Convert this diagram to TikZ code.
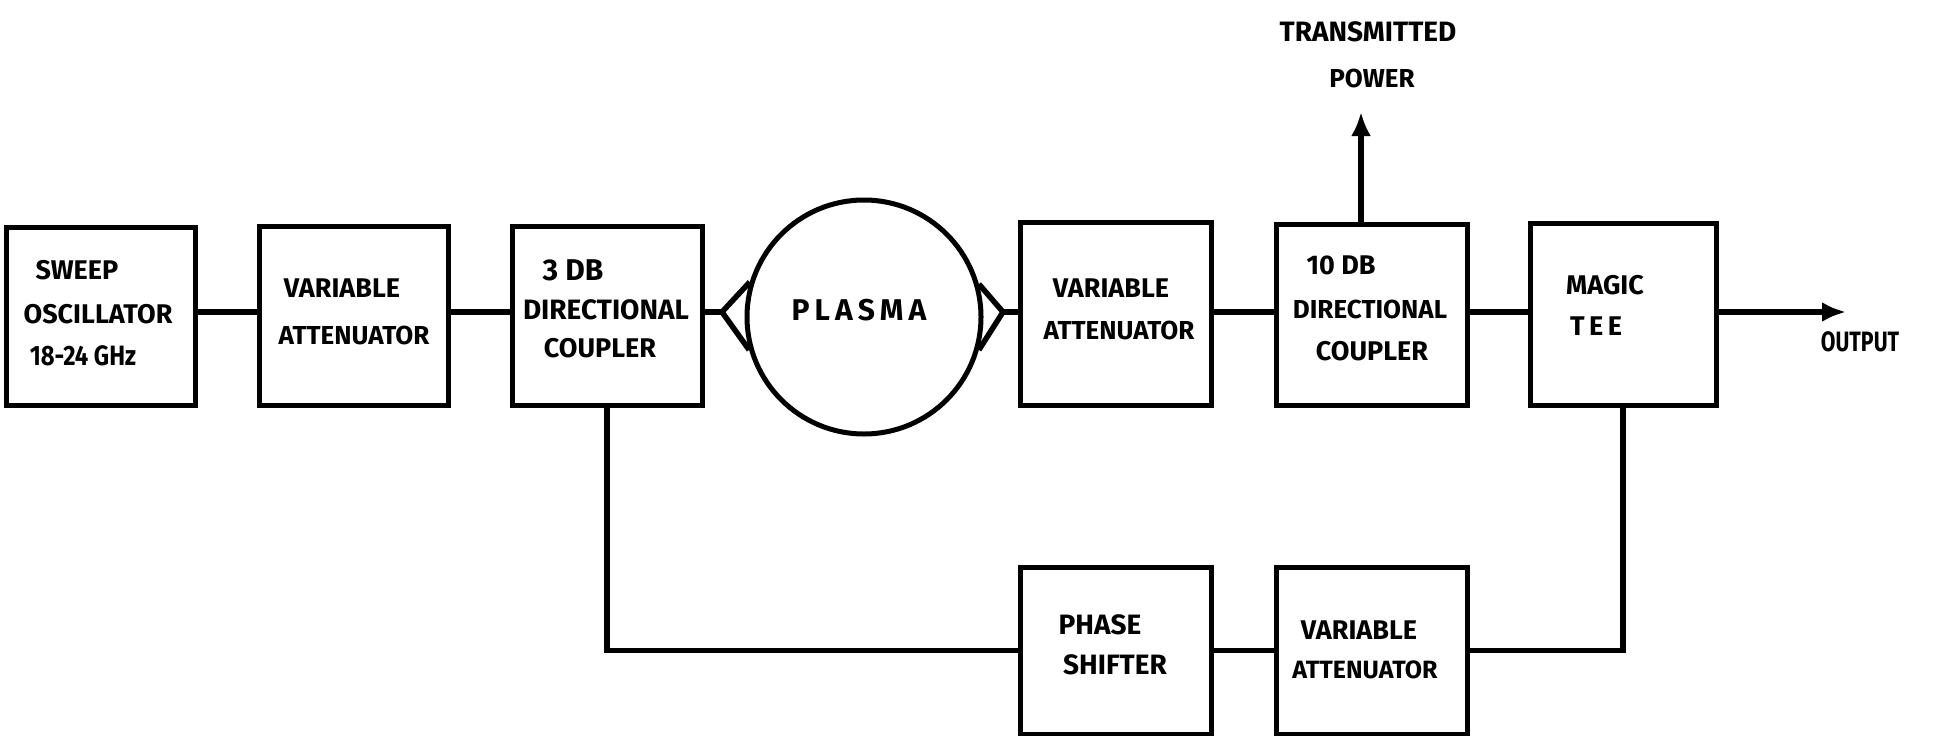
\documentclass[tikz,border=0pt]{standalone}
\usepackage{fontspec}
\setmainfont{Fira Sans}
\usetikzlibrary{arrows.meta}
\begin{document}
\begin{tikzpicture}[x=1pt,y=-1pt,
  wire/.style={line width=5.5pt},
  blk/.style={draw,line width=5pt,inner sep=0pt,fill=none},
  lbl/.style={inner sep=0pt,font=\bfseries\fontsize{27}{32}\selectfont},
  fs/.style={font=\bfseries\fontsize{#1}{#1}\selectfont},
  arr/.style={wire,-{Latex[length=24pt,width=20pt]}}]
\useasboundingbox (0,0) rectangle (1944,736);
% boxes
\node[blk,minimum width=189pt,minimum height=178pt] (b1) at (100.5,316) {};
\node[blk,minimum width=189pt,minimum height=179pt] (b2) at (353.5,315.5) {};
\node[blk,minimum width=190pt,minimum height=179pt] (b3) at (607,315.5) {};
\node[draw,circle,line width=5pt,minimum size=234pt,inner sep=0pt] (plasma) at (864,317) {};
\node[blk,minimum width=191pt,minimum height=183pt] (b4) at (1115.5,313.5) {};
\node[blk,minimum width=191pt,minimum height=181pt] (b5) at (1371.5,314.5) {};
\node[blk,minimum width=186pt,minimum height=182pt] (b6) at (1623,314) {};
\node[blk,minimum width=191pt,minimum height=167pt] (b7) at (1115.5,650.5) {};
\node[blk,minimum width=191pt,minimum height=167pt] (b8) at (1371.5,650.5) {};
% coordinates
\coordinate (tl) at (722,312);
\coordinate (tr) at (1003,312);
\coordinate (tp) at (1361,112);
\coordinate (out) at (1846,312);
% connectors
\draw[wire] (b1.east |- tl) -- (b2.west |- tl);
\draw[wire] (b2.east |- tl) -- (b3.west |- tl);
\draw[wire] (b3.east |- tl) -- (tl);
\draw[wire,line join=miter] (plasma.163.6) -- (tl) -- (plasma.196.4);
\draw[wire,line join=miter] (plasma.16.4) -- (tr) -- (plasma.-16.4);
\draw[wire] (tr) -- (b4.west |- tr);
\draw[wire] (b4.east |- tl) -- (b5.west |- tl);
\draw[wire] (b5.east |- tl) -- (b6.west |- tl);
\draw[arr] (b6.east |- out) -- (out);
\draw[arr] (b5.north -| tp) -- (tp);
\draw[wire] (b3.south) |- (b7.west);
\draw[wire] (b7.east) -- (b8.west);
\draw[wire] (b8.east) -| (b6.south);
% labels
\node[lbl] (t1a) at (77,270) {SWEEP};
\node[lbl] (t1b) at (98,314) {OSCILLATOR};
\node[lbl,fs=28] (t1c) at (83,356) {\scalebox{0.85}[1]{18-24 GHz}};
\node[lbl] (t2a) at (342,288) {VARIABLE};
\node[lbl,fs=26] (t2b) at (354,335) {ATTENUATOR};
\node[lbl,fs=30] (t3a) at (573,270) {3 DB};
\node[lbl,fs=28] (t3b) at (606,310) {DIRECTIONAL};
\node[lbl] (t3c) at (600,348) {COUPLER};
\node[lbl,fs=30] (tpl) at (859,310) {P\,L\,A\,S\,M\,A};
\node[lbl] (t4a) at (1111,288) {VARIABLE};
\node[lbl,fs=26] (t4b) at (1119,330) {ATTENUATOR};
\node[lbl] (t5a) at (1341,265) {10 DB};
\node[lbl,fs=26] (t5b) at (1370,309) {DIRECTIONAL};
\node[lbl] (t5c) at (1372,351) {COUPLER};
\node[lbl] (t6a) at (1605,285) {MAGIC};
\node[lbl] (t6b) at (1596,326) {T\,E\,E};
\node[lbl,fs=28] (ttr) at (1368,32) {TRANSMITTED};
\node[lbl,fs=26] (tpw) at (1372,78) {POWER};
\node[lbl,fs=28] (tout) at (1860,342) {\scalebox{0.76}[1]{OUTPUT}};
\node[lbl,fs=28] (t7a) at (1100,625) {PHASE};
\node[lbl,fs=28] (t7b) at (1115,665) {SHIFTER};
\node[lbl] (t8a) at (1359,630) {VARIABLE};
\node[lbl,fs=25] (t8b) at (1365,670) {ATTENUATOR};
\end{tikzpicture}
\end{document}
